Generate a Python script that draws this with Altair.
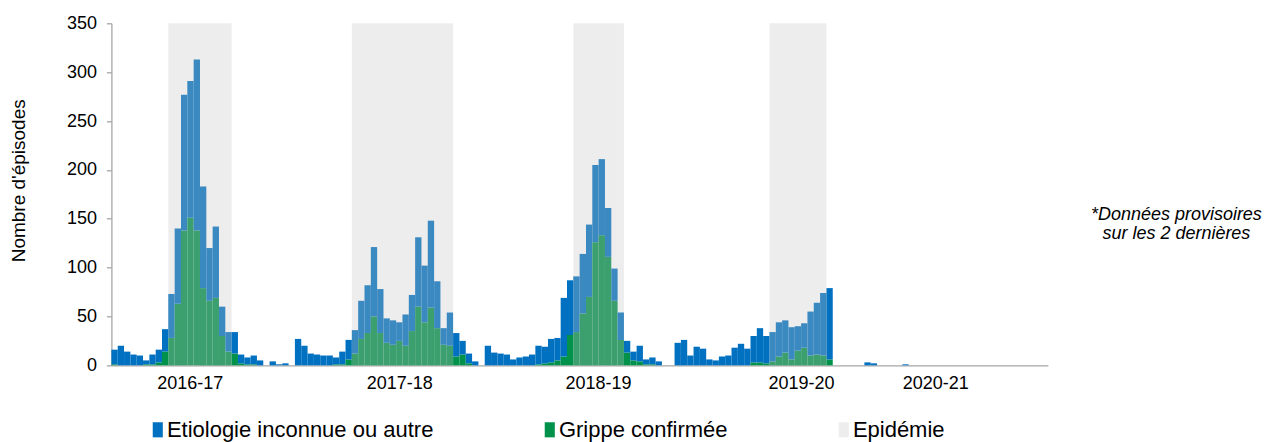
import altair as alt
import pandas as pd

# ---- data (weekly slots) ----
N_SLOTS = 148
total = [
    16, 20, 14, 11, 10, 5, 11, 16, 37, 73,            # 0-9
    140, 277, 291, 313, 183, 120, 142, 60, 34, 34,    # 10-19
    11, 8, 10, 5, 0, 4, 1, 2, 0, 27,                  # 20-29
    20, 12, 11, 10, 10, 8, 14, 26, 36, 66,            # 30-39
    82, 121, 78, 48, 46, 44, 52, 72, 131, 102,        # 40-49
    148, 86, 38, 54, 33, 25, 12, 4, 0, 20,            # 50-59
    13, 12, 11, 6, 8, 9, 11, 20, 19, 27,              # 60-69
    28, 69, 87, 91, 114, 144, 205, 211, 161, 99,      # 70-79
    54, 25, 14, 20, 6, 8, 4, 0, 0, 23,                # 80-89
    26, 10, 19, 17, 6, 5, 9, 10, 18, 22,              # 90-99
    17, 30, 38, 30, 34, 44, 46, 39, 40, 43,           # 100-109
    55, 64, 74, 79, 0, 0, 0, 0, 0, 3,                 # 110-119
    2, 0, 0, 0, 0, 1, 0, 0, 0, 0,                     # 120-129
    0, 0, 0, 0, 0, 0, 0, 0, 0, 0,                     # 130-139
    0, 0, 0, 0, 0, 0, 0, 0,                           # 140-147
]
grippe = [
    1, 0, 0, 0, 0, 1, 1, 3, 14, 28,                   # 0-9
    63, 138, 151, 138, 79, 66, 69, 30, 14, 12,        # 10-19
    2, 1, 1, 0, 0, 0, 0, 0, 0, 0,                     # 20-29
    0, 0, 0, 0, 0, 1, 1, 6, 12, 27,                   # 30-39
    33, 50, 33, 23, 21, 25, 20, 35, 60, 44,           # 40-49
    59, 38, 21, 20, 9, 11, 2, 0, 0, 0,                # 50-59
    0, 0, 0, 0, 0, 0, 0, 1, 2, 3,                     # 60-69
    5, 9, 31, 34, 53, 70, 126, 133, 111, 66,          # 70-79
    26, 13, 5, 4, 1, 1, 0, 0, 0, 0,                   # 80-89
    0, 0, 0, 0, 0, 0, 0, 0, 0, 0,                     # 90-99
    0, 3, 3, 2, 4, 9, 13, 6, 15, 18,                  # 100-109
    10, 11, 10, 6, 0, 0, 0, 0, 0, 0,                  # 110-119
    0, 0, 0, 0, 0, 0, 0, 0, 0, 0,                     # 120-129
    0, 0, 0, 0, 0, 0, 0, 0, 0, 0,                     # 130-139
    0, 0, 0, 0, 0, 0, 0, 0,                           # 140-147
]
epi_start = [9, 38, 73, 104]
epi_end = [19, 54, 81, 113]
season_labels = ["2016-17", "2017-18", "2018-19", "2019-20", "2020-21"]
season_pos = [12.4, 45.5, 76.9, 109.0, 130.2]
y_ticks = [0, 50, 100, 150, 200, 250, 300, 350]

LAB_BLUE = "Etiologie inconnue ou autre"
LAB_GREEN = "Grippe confirmée"
LAB_EPI = "Epidémie"
note_lines = ["*Données provisoires", "sur les 2 dernières"]

BLUE = "#0070C0"
GREEN = "#00914A"
FONT = "Liberation Sans"

# ---- tables ----
rows = []
for i in range(N_SLOTS):
    g = grippe[i]
    t = total[i]
    rows.append({"x0": i, "x1": i + 1, "y_lo": 0, "y_hi": g, "type": LAB_GREEN})
    rows.append({"x0": i, "x1": i + 1, "y_lo": g, "y_hi": t, "type": LAB_BLUE})
bars_df = pd.DataFrame(rows)

band_df = pd.DataFrame({
    "x0": epi_start,
    "x1": epi_end,
    "y_lo": [0] * len(epi_start),
    "y_hi": [350] * len(epi_start),
})

expr = "''"
for pos, lab in reversed(list(zip(season_pos, season_labels))):
    expr = f"abs(datum.value - {pos}) < 0.01 ? '{lab}' : ({expr})"

W = 936.5
H = 342

x_enc = alt.X(
    "x0:Q",
    scale=alt.Scale(domain=[0, N_SLOTS], nice=False, zero=False),
    axis=alt.Axis(
        values=season_pos, labelExpr=expr, ticks=False, grid=False, title=None,
        labelFontSize=18, labelPadding=9, labelOverlap=False, labelFlush=False,
    ),
)
y_enc = alt.Y(
    "y_lo:Q",
    scale=alt.Scale(domain=[0, 350], nice=False),
    axis=alt.Axis(
        values=y_ticks, grid=False, tickSize=5, labelPadding=10, labelFontSize=18,
        title="Nombre d'épisodes", titleFontSize=19, titleFontWeight="normal",
        titleX=-93, titleY=157, titleBaseline="middle", titleAlign="center",
    ),
)

bars = alt.Chart(bars_df).mark_rect().encode(
    x=x_enc,
    x2="x1:Q",
    y=y_enc,
    y2="y_hi:Q",
    color=alt.Color(
        "type:N",
        scale=alt.Scale(domain=[LAB_BLUE, LAB_GREEN, LAB_EPI], range=[BLUE, GREEN, "#EDEDED"]),
        legend=alt.Legend(
            title=None, orient="none", direction="horizontal",
            legendX=31.5, legendY=395.5, padding=0,
            symbolType="M-0.3,-1.95H2.3V1.95H-0.3Z", symbolSize=60, symbolStrokeWidth=0,
            labelFontSize=22, labelFont=FONT, labelColor="#000", labelOffset=2,
            columnPadding=101, labelLimit=400,
        ),
    ),
)

band = alt.Chart(band_df).mark_rect(color="#C3C3C3", opacity=0.3).encode(
    x=x_enc, x2="x1:Q", y=y_enc, y2="y_hi:Q"
)

note = alt.Chart(pd.DataFrame({"k": [0]})).mark_text(
    text=note_lines, font=FONT, fontSize=18, fontStyle="italic",
    align="center", baseline="middle", lineHeight=19, color="#000",
).encode(x=alt.value(1065), y=alt.value(191.7))

chart = alt.layer(bars, band, note).properties(
    width=W, height=H,
    autosize=alt.AutoSizeParams(type="none"),
    padding={"left": 103.4, "top": 15.3, "right": 214, "bottom": 76.5},
).configure_view(stroke=None).configure_axis(
    labelFont=FONT, titleFont=FONT, labelColor="#000", titleColor="#000",
    domainColor="#A6A6A6", tickColor="#A6A6A6", domainWidth=1.3, tickWidth=1.3,
)

chart.save("out.html", embed_options={"renderer": "svg", "actions": False})
